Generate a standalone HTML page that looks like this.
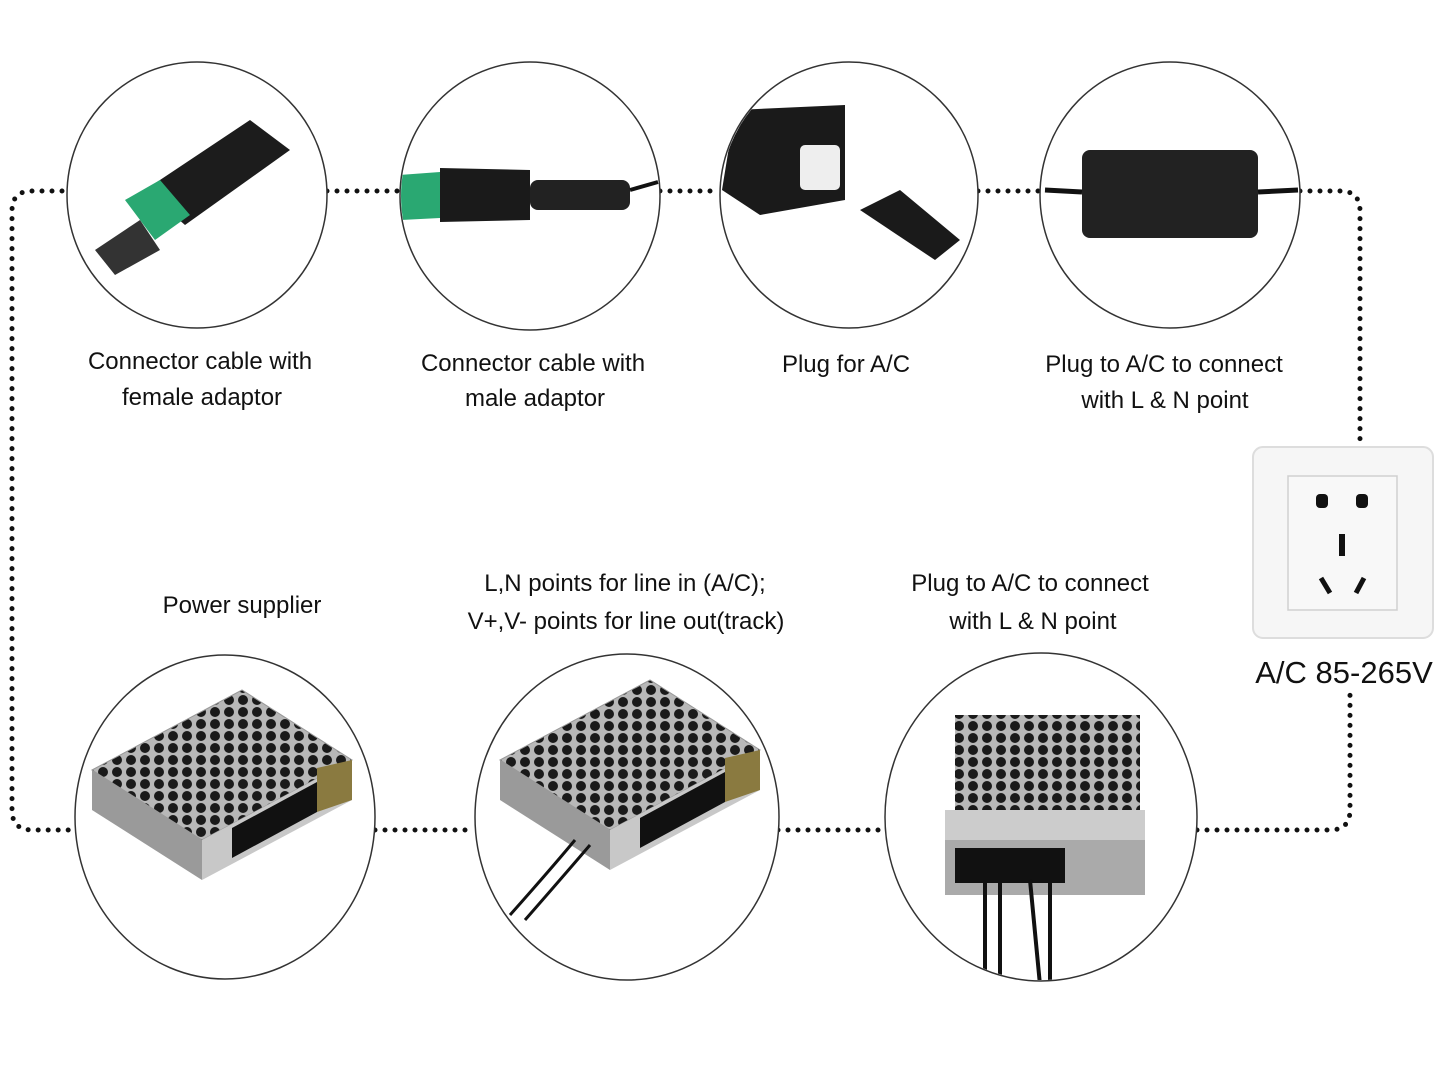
<!DOCTYPE html>
<html><head><meta charset="utf-8"><style>
html,body{margin:0;padding:0;background:#fff}
svg{display:block}
text{font-family:"Liberation Sans",sans-serif;fill:#111}
</style></head><body>
<svg width="1448" height="1086" viewBox="0 0 1448 1086" xmlns="http://www.w3.org/2000/svg">
<defs>
<pattern id="hex" width="14" height="12" patternUnits="userSpaceOnUse">
<rect width="14" height="12" fill="#b8b8b8"/>
<circle cx="7" cy="6" r="5" fill="#1a1a1a"/>
</pattern>
<g id="psu">
<polygon points="-130,-20 20,-100 130,-30 -20,50" fill="url(#hex)" stroke="#999"/>
<polygon points="-130,-20 -20,50 -20,90 -130,20" fill="#9a9a9a"/>
<polygon points="-20,50 130,-30 130,10 -20,90" fill="#c8c8c8"/>
<polygon points="10,38 95,-8 95,22 10,68" fill="#111"/>
<polygon points="95,-22 130,-30 130,10 95,22" fill="#8a7a40"/>
</g>
<clipPath id="c1"><ellipse cx="197" cy="195" rx="129" ry="132"/></clipPath>
<clipPath id="c2"><ellipse cx="530" cy="196" rx="129" ry="133"/></clipPath>
<clipPath id="c3"><ellipse cx="849" cy="195" rx="128" ry="132"/></clipPath>
<clipPath id="c5"><ellipse cx="225" cy="817" rx="149" ry="161"/></clipPath>
<clipPath id="c6"><ellipse cx="627" cy="817" rx="151" ry="162"/></clipPath>
<clipPath id="c7"><ellipse cx="1041" cy="817" rx="155" ry="163"/></clipPath>
</defs>
<g fill="none" stroke="#111" stroke-width="5" stroke-linecap="round" stroke-dasharray="0 10">
<path d="M62 191 L32 191 Q12 191 12 211 L12 810 Q12 830 32 830 L75 830"/>
<path d="M327 191 L400 191"/>
<path d="M660 191 L720 191"/>
<path d="M978 191 L1040 191"/>
<path d="M1300 191 L1340 191 Q1360 191 1360 211 L1360 445"/>
<path d="M375 830 L475 830"/>
<path d="M778 830 L885 830"/>
<path d="M1197 830 L1330 830 Q1350 830 1350 810 L1350 690"/>
</g>
<g fill="#fff" stroke="#333" stroke-width="1.5">
<ellipse cx="197" cy="195" rx="130" ry="133"/>
<ellipse cx="530" cy="196" rx="130" ry="134"/>
<ellipse cx="849" cy="195" rx="129" ry="133"/>
<ellipse cx="1170" cy="195" rx="130" ry="133"/>
<ellipse cx="225" cy="817" rx="150" ry="162"/>
<ellipse cx="627" cy="817" rx="152" ry="163"/>
<ellipse cx="1041" cy="817" rx="156" ry="164"/>
</g>
<g clip-path="url(#c1)">
<polygon points="145,190 250,120 290,150 185,225" fill="#1c1c1c"/>
<polygon points="125,200 160,180 190,215 155,240" fill="#2aa872"/>
<polygon points="95,250 140,220 160,250 115,275" fill="#333"/>
</g>
<g clip-path="url(#c2)">
<polygon points="400,175 440,172 440,218 400,220" fill="#2aa872"/>
<polygon points="440,168 530,170 530,220 440,222" fill="#1a1a1a"/>
<rect x="530" y="180" width="100" height="30" rx="8" fill="#222"/>
<path d="M630 190 L658 182" stroke="#111" stroke-width="4"/>
</g>
<g clip-path="url(#c3)">
<polygon points="735,110 845,105 845,200 760,215 722,190" fill="#1a1a1a"/>
<rect x="800" y="145" width="40" height="45" rx="5" fill="#eee"/>
<polygon points="860,210 900,190 960,240 935,260" fill="#1a1a1a"/>
</g>
<rect x="1082" y="150" width="176" height="88" rx="8" fill="#222"/>
<path d="M1045 190 L1082 192 M1258 192 L1298 190" stroke="#111" stroke-width="5"/>
<g clip-path="url(#c5)"><use href="#psu" transform="translate(222,790)"/></g>
<g clip-path="url(#c6)">
<use href="#psu" transform="translate(630,780)"/>
<path d="M510 915 Q550 870 575 840 M525 920 Q560 880 590 845" stroke="#111" stroke-width="3" fill="none"/>
</g>
<g clip-path="url(#c7)">
<rect x="955" y="715" width="185" height="100" fill="url(#hex)"/>
<rect x="945" y="810" width="200" height="30" fill="#ccc"/>
<rect x="945" y="840" width="200" height="55" fill="#aaa"/>
<rect x="955" y="848" width="110" height="35" fill="#111"/>
<path d="M985 880 L985 985 M1000 880 L1000 985 M1030 880 L1040 985 M1050 880 L1050 985" stroke="#111" stroke-width="4"/>
</g>
<rect x="1253" y="447" width="180" height="191" rx="10" fill="#f6f6f6" stroke="#ddd" stroke-width="2"/>
<rect x="1288" y="476" width="109" height="134" fill="#f8f8f8" stroke="#d0d0d0" stroke-width="1.5"/>
<rect x="1316" y="494" width="12" height="14" rx="4" fill="#111"/>
<rect x="1356" y="494" width="12" height="14" rx="4" fill="#111"/>
<rect x="1339" y="534" width="6" height="22" fill="#111"/>
<path d="M1321 578 L1330 593 M1364 578 L1356 593" stroke="#111" stroke-width="5"/>
<g font-size="24" text-anchor="middle">
<text x="200" y="369">Connector cable with</text>
<text x="202" y="405">female adaptor</text>
<text x="533" y="371">Connector cable with</text>
<text x="535" y="406">male adaptor</text>
<text x="846" y="372">Plug for A/C</text>
<text x="1164" y="372">Plug to A/C to connect</text>
<text x="1165" y="408">with L &amp; N point</text>
<text x="242" y="613">Power supplier</text>
<text x="625" y="591">L,N points for line in (A/C);</text>
<text x="626" y="629">V+,V- points for line out(track)</text>
<text x="1030" y="591">Plug to A/C to connect</text>
<text x="1033" y="629">with L &amp; N point</text>
<text x="1344" y="683" font-size="31">A/C 85-265V</text>
</g>
</svg>
</body></html>
